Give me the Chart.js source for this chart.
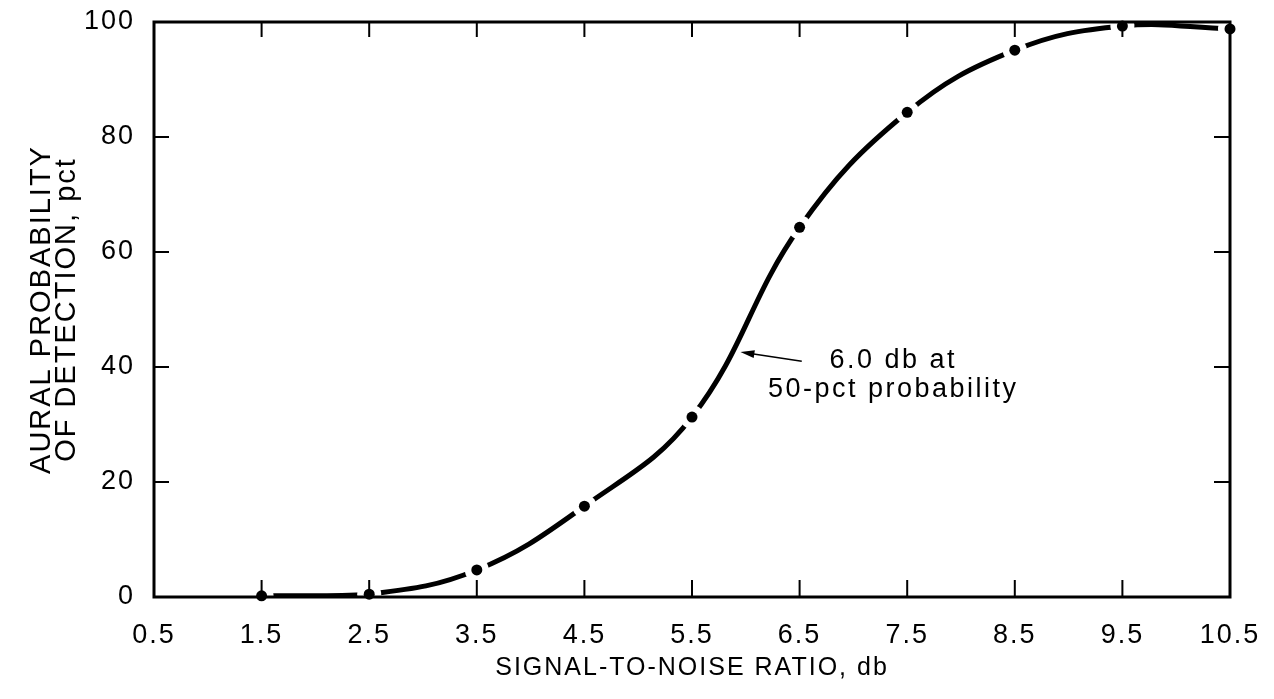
<!DOCTYPE html>
<html>
<head>
<meta charset="utf-8">
<script src="https://cdn.jsdelivr.net/npm/chart.js@4.4.1/dist/chart.umd.min.js"></script>
<style>
  html, body { margin: 0; padding: 0; background: #ffffff; }
  canvas { display: block; }
</style>
</head>
<body>
<canvas id="c" width="1274" height="699"></canvas>
<script>
// ---- data ----
const SNR_DB = [1.5, 2.5, 3.5, 4.5, 5.5, 6.5, 7.5, 8.5, 9.5, 10.5];
const PROB_PCT = [0.2, 0.5, 4.7, 15.8, 31.3, 64.3, 84.3, 95.1, 99.3, 98.8];
const X_TICKS = [0.5, 1.5, 2.5, 3.5, 4.5, 5.5, 6.5, 7.5, 8.5, 9.5, 10.5];
const Y_TICKS = [0, 20, 40, 60, 80, 100];
const X_TITLE = 'SIGNAL-TO-NOISE RATIO, db';
const Y_TITLE = ['AURAL PROBABILITY', 'OF DETECTION, pct'];
const NOTE_LINES = ['6.0 db at', '50-pct probability'];
const NOTE_TEXT_AT = { x: 7.37, y: [41.2, 36.0] };
const NOTE_ARROW = { fromX: 6.52, fromY: 41.0, toX: 5.95, toY: 42.6 };

const pts = SNR_DB.map((x, i) => ({ x: x, y: PROB_PCT[i] }));
const FONT = "'Liberation Sans', Arial, sans-serif";

function setSpacing(chart) { chart.ctx.letterSpacing = '2px'; }

const framePlugin = {
  id: 'frame',
  beforeUpdate: setSpacing,
  beforeLayout: setSpacing,
  beforeDraw: setSpacing,
  beforeDatasetDraw(chart, args) {
    if (args.index !== 0) return;
    const { ctx, chartArea: a, scales } = chart;
    ctx.save();
    ctx.strokeStyle = '#000';
    ctx.lineWidth = 3;
    ctx.strokeRect(a.left, a.top, a.right - a.left, a.bottom - a.top);
    ctx.lineWidth = 2;
    ctx.beginPath();
    X_TICKS.slice(1, -1).forEach(v => {
      const px = scales.x.getPixelForValue(v);
      ctx.moveTo(px, a.bottom); ctx.lineTo(px, a.bottom - 17);
      ctx.moveTo(px, a.top); ctx.lineTo(px, a.top + 15);
    });
    Y_TICKS.slice(1, -1).forEach(v => {
      const py = scales.y.getPixelForValue(v);
      ctx.moveTo(a.left, py); ctx.lineTo(a.left + 15, py);
      ctx.moveTo(a.right, py); ctx.lineTo(a.right - 16, py);
    });
    ctx.stroke();
    ctx.restore();
  },
  afterDraw(chart) {
    const { ctx, scales } = chart;
    const sx = scales.x, sy = scales.y;
    ctx.save();
    ctx.letterSpacing = '2.5px';
    ctx.fillStyle = '#000';
    ctx.font = "27px " + FONT;
    ctx.textAlign = 'center';
    ctx.textBaseline = 'middle';
    NOTE_LINES.forEach((t, i) => {
      ctx.fillText(t, sx.getPixelForValue(NOTE_TEXT_AT.x), sy.getPixelForValue(NOTE_TEXT_AT.y[i]));
    });
    const x1 = sx.getPixelForValue(NOTE_ARROW.fromX), y1 = sy.getPixelForValue(NOTE_ARROW.fromY);
    const x2 = sx.getPixelForValue(NOTE_ARROW.toX), y2 = sy.getPixelForValue(NOTE_ARROW.toY);
    const ang = Math.atan2(y2 - y1, x2 - x1);
    ctx.strokeStyle = '#000';
    ctx.lineWidth = 1.5;
    ctx.beginPath();
    ctx.moveTo(x1, y1); ctx.lineTo(x2 - 10 * Math.cos(ang), y2 - 10 * Math.sin(ang));
    ctx.stroke();
    ctx.beginPath();
    ctx.moveTo(x2, y2);
    ctx.lineTo(x2 - 14 * Math.cos(ang) + 4 * Math.sin(ang), y2 - 14 * Math.sin(ang) - 4 * Math.cos(ang));
    ctx.lineTo(x2 - 14 * Math.cos(ang) - 4 * Math.sin(ang), y2 - 14 * Math.sin(ang) + 4 * Math.cos(ang));
    ctx.closePath();
    ctx.fill();
    ctx.restore();
  }
};

new Chart(document.getElementById('c'), {
  type: 'scatter',
  data: {
    datasets: [
      { // black dots (drawn last, on top)
        data: pts, showLine: false, pointRadius: 5.5, pointBackgroundColor: '#000',
        pointBorderWidth: 0, clip: false
      },
      { // white halo that leaves the gap in the curve around each dot
        data: pts, showLine: false, pointRadius: 12, pointBackgroundColor: '#fff',
        pointBorderWidth: 0, clip: false
      },
      { // the curve
        data: pts, showLine: true, pointRadius: 0, borderColor: '#000', borderWidth: 5,
        tension: 0.4, fill: false, borderCapStyle: 'round'
      }
    ]
  },
  options: {
    responsive: false,
    animation: false,
    events: [],
    layout: { padding: { top: 22, right: 44, left: 0, bottom: 0 } },
    plugins: { legend: { display: false }, tooltip: { enabled: false } },
    scales: {
      x: {
        type: 'linear', min: 0.5, max: 10.5,
        afterBuildTicks: s => { s.ticks = X_TICKS.map(v => ({ value: v })); },
        afterFit: s => { s.height = 102; s.paddingLeft = 0; s.paddingRight = 0; },
        grid: { display: false },
        border: { display: false },
        ticks: {
          autoSkip: false, maxRotation: 0, color: '#000', padding: 14,
          font: { family: FONT, size: 27 },
          callback: v => Number(v).toFixed(1)
        },
        title: {
          display: true, text: X_TITLE, color: '#000',
          font: { family: FONT, size: 25 }, padding: { top: 0, bottom: 16 }
        }
      },
      y: {
        type: 'linear', min: 0, max: 100,
        afterBuildTicks: s => { s.ticks = Y_TICKS.map(v => ({ value: v })); },
        afterFit: s => { s.width = 154; s.paddingTop = 0; s.paddingBottom = 0; },
        grid: { display: false },
        border: { display: false },
        ticks: {
          color: '#000', padding: 11,
          font: { family: FONT, size: 27 },
          callback: v => String(v)
        },
        title: {
          display: true, text: Y_TITLE, color: '#000',
          font: { family: FONT, size: 29, lineHeight: 0.85 }, padding: { top: 30, bottom: 0 }
        }
      }
    }
  },
  plugins: [framePlugin]
});
</script>
</body>
</html>
